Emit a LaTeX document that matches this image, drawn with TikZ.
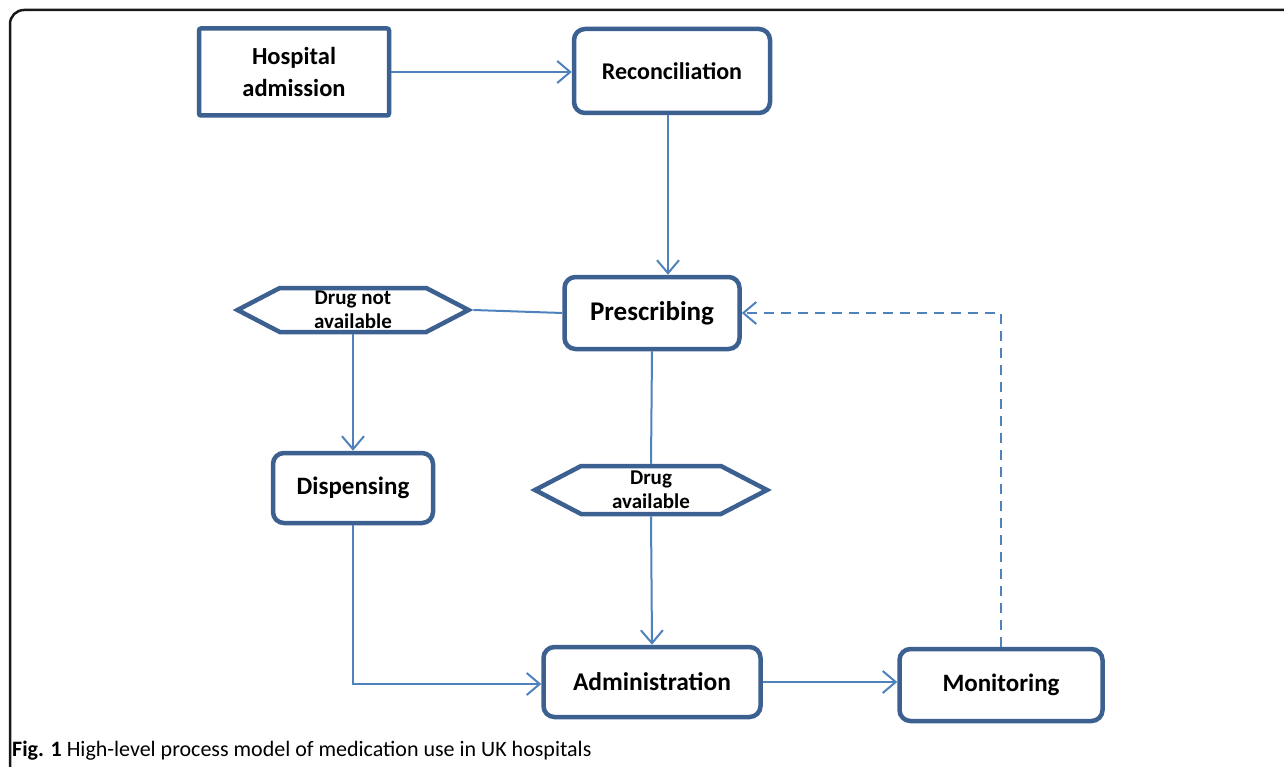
\documentclass[tikz,border=0pt]{standalone}
\usepackage{fontspec}
\setmainfont{Carlito}
\usetikzlibrary{arrows.meta,shapes.symbols}
\definecolor{boxc}{RGB}{60,96,144}
\definecolor{arrc}{RGB}{79,129,189}
\newcommand{\fsz}[1]{\bfseries\fontsize{#1}{#1}\selectfont}
\tikzset{
  proc/.style={draw=boxc, line width=4.5pt, rounded corners=11pt, fill=white, align=center, font=\fsz{25}},
  hexa/.style={draw=boxc, line width=4.5pt, signal, signal to=east and west, signal pointer angle=55, fill=white, align=center, inner sep=0pt, font=\fsz{21}},
  conn/.style={draw=arrc, line width=2pt},
  arr/.style={conn, -{Straight Barb[length=13pt,width=22pt,line width=2pt]}},
  frame/.style={draw=black!90, line width=2.5pt, rounded corners=14pt}
}
\begin{document}
\begin{tikzpicture}[x=1pt,y=-1pt]
\useasboundingbox (0,0) rectangle (1284,767);
\draw[frame] (10,767) -- (10,10) -- (1290,10);
% nodes
\node[proc, rounded corners=2pt, minimum width=190, minimum height=87, font=\fsz{24.5}, align=center] (hosp) at (294,72) {Hospital\\[7pt]admission};
\node[proc, font=\fsz{24}, minimum width=196, minimum height=84] (rec) at (672,71) {Reconciliation};
\node[proc, font=\fsz{27}, minimum width=175, minimum height=72] (pres) at (652,313) {Prescribing};
\node[hexa, minimum width=231, minimum height=44] (dna) at (353,310) {Drug not\\[3pt]available};
\node[proc, minimum width=160, minimum height=70] (disp) at (353,488) {Dispensing};
\node[hexa, minimum width=232, minimum height=48] (da) at (651,490) {Drug\\[3pt]available};
\node[proc, font=\fsz{25.5}, minimum width=217, minimum height=70] (adm) at (652,682) {Administration};
\node[proc, minimum width=203, minimum height=72] (mon) at (1001,685) {Monitoring};
\coordinate (dashcorner) at (1001,313);
\coordinate (dispcorner) at (353,684);
% connectors
\draw[arr] (hosp.east) -- (hosp.east -| rec.west);
\draw[arr] (rec.south -| 668,0) -- (pres.north -| 668,0);
\draw[conn] (dna.east) -- (pres.west);
\draw[arr] (dna.south) -- (disp.north);
\draw[conn] (pres.south) -- (da.north);
\draw[arr] (da.south) -- (adm.north);
\draw[arr] (disp.south) -- (dispcorner) -- (dispcorner -| adm.west);
\draw[arr] (adm.east) -- (adm.east -| mon.west);
\draw[arr, dashed, dash pattern=on 10pt off 7pt] (mon.north) -- (dashcorner) -- (pres.east);
% caption
\node[anchor=base west, inner sep=0pt, font=\mdseries\fontsize{22}{24}\selectfont] (cap) at (12,756) {\textbf{Fig. 1} High-level process model of medication use in UK hospitals};
\end{tikzpicture}
\end{document}
